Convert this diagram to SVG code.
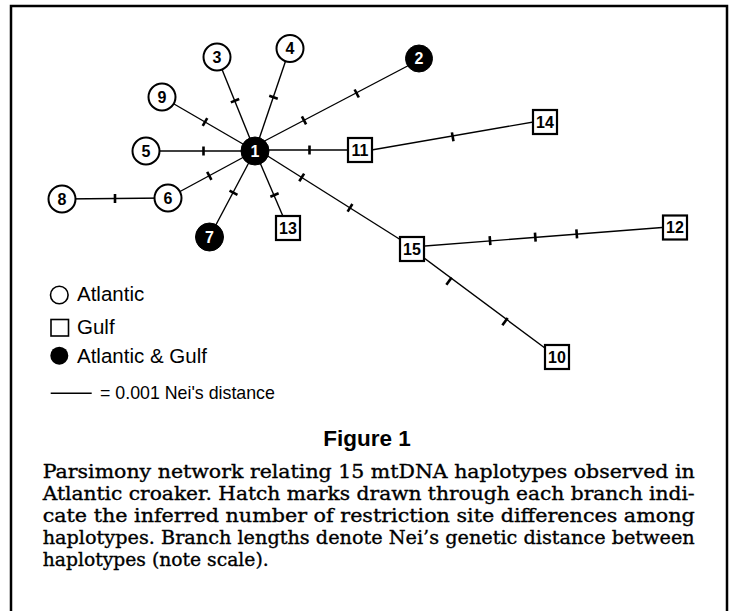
<svg xmlns="http://www.w3.org/2000/svg" xmlns:xlink="http://www.w3.org/1999/xlink" width="729" height="611" viewBox="0 0 729 611">
<style>
.edge{stroke:#000;stroke-width:1.4;fill:none}
.open{fill:#fff;stroke:#000;stroke-width:2}
.filled{fill:#000;stroke:#000;stroke-width:1}
.sq{fill:#fff;stroke:#000;stroke-width:2.2}
.lbl{font-family:"Liberation Sans",Arial,sans-serif;font-weight:bold;font-size:16px;text-anchor:middle;fill:#000}
.wl{fill:#fff}
.leg{font-family:"Liberation Sans",Arial,sans-serif;font-size:20.5px;fill:#000}
.cap{font-family:"DejaVu Serif","Liberation Serif",serif;font-size:18.5px;fill:#000;stroke:#000;stroke-width:0.35}
</style>
<defs>
<line id="tick" x1="0" y1="-4.5" x2="0" y2="4.5" stroke="#000" stroke-width="2.6"/>
</defs>
<rect width="729" height="611" fill="#fff"/>
<path d="M11,612 V6 H727 V612" fill="none" stroke="#000" stroke-width="2.5"/>
<g id="connectors">
<line class="edge" x1="255" y1="151" x2="217" y2="57"/>
<line class="edge" x1="255" y1="151" x2="290" y2="48"/>
<line class="edge" x1="255" y1="151" x2="162" y2="97"/>
<line class="edge" x1="255" y1="151" x2="146" y2="151"/>
<line class="edge" x1="255" y1="151" x2="168" y2="198"/>
<line class="edge" x1="168" y1="198" x2="62" y2="199"/>
<line class="edge" x1="255" y1="151" x2="209.5" y2="237"/>
<line class="edge" x1="255" y1="151" x2="288" y2="228"/>
<line class="edge" x1="255" y1="150" x2="360" y2="150"/>
<line class="edge" x1="255" y1="146" x2="419" y2="60"/>
<line class="edge" x1="255" y1="148" x2="412" y2="247"/>
<line class="edge" x1="360" y1="152" x2="545" y2="120"/>
<line class="edge" x1="412" y1="247" x2="675" y2="226.5"/>
<line class="edge" x1="412" y1="249" x2="557" y2="357"/>
<use xlink:href="#tick" transform="translate(235,100.7) rotate(68)"/>
<use xlink:href="#tick" transform="translate(273.5,97.3) rotate(-71.2)"/>
<use xlink:href="#tick" transform="translate(205,122) rotate(30.1)"/>
<use xlink:href="#tick" transform="translate(203.5,151)"/>
<use xlink:href="#tick" transform="translate(209.3,175.8) rotate(-28.4)"/>
<use xlink:href="#tick" transform="translate(115,198.5)"/>
<use xlink:href="#tick" transform="translate(233.5,192.8) rotate(-62.1)"/>
<use xlink:href="#tick" transform="translate(274.5,195) rotate(66.8)"/>
<use xlink:href="#tick" transform="translate(309.5,150)"/>
<use xlink:href="#tick" transform="translate(304,120.3) rotate(-27.7)"/>
<use xlink:href="#tick" transform="translate(356.7,93.5) rotate(-27.7)"/>
<use xlink:href="#tick" transform="translate(301.7,177.4) rotate(32.2)"/>
<use xlink:href="#tick" transform="translate(350,207.8) rotate(32.2)"/>
<use xlink:href="#tick" transform="translate(452.7,136.8) rotate(-10)"/>
<use xlink:href="#tick" transform="translate(490,240.6) rotate(-4.4)"/>
<use xlink:href="#tick" transform="translate(535.3,237.1) rotate(-4.4)"/>
<use xlink:href="#tick" transform="translate(576.7,233.9) rotate(-4.4)"/>
<use xlink:href="#tick" transform="translate(449,281.2) rotate(35.8)"/>
<use xlink:href="#tick" transform="translate(505,321.6) rotate(35.8)"/>
</g>
<g id="node1"><circle class="filled" cx="255" cy="151" r="14"/><text class="lbl wl" x="255" y="156.5">1</text></g>
<g id="node2"><circle class="filled" cx="419" cy="58.5" r="13.5"/><text class="lbl wl" x="419" y="64">2</text></g>
<g id="node3"><circle class="open" cx="217" cy="57" r="13.5"/><text class="lbl" x="217" y="62.5">3</text></g>
<g id="node4"><circle class="open" cx="290" cy="48.5" r="13.5"/><text class="lbl" x="290" y="54">4</text></g>
<g id="node5"><circle class="open" cx="146" cy="151" r="13.5"/><text class="lbl" x="146" y="156.5">5</text></g>
<g id="node6"><circle class="open" cx="168" cy="198" r="13.5"/><text class="lbl" x="168" y="203.5">6</text></g>
<g id="node7"><circle class="filled" cx="209.5" cy="237" r="14"/><text class="lbl wl" x="209.5" y="242.5">7</text></g>
<g id="node8"><circle class="open" cx="62" cy="199" r="13.5"/><text class="lbl" x="62" y="204.5">8</text></g>
<g id="node9"><circle class="open" cx="162" cy="97" r="13.5"/><text class="lbl" x="162" y="102.5">9</text></g>
<g id="node10"><rect class="sq" x="545" y="345" width="24" height="24"/><text class="lbl" x="557" y="362.5">10</text></g>
<g id="node11"><rect class="sq" x="348" y="138" width="24" height="24"/><text class="lbl" x="360" y="155.5">11</text></g>
<g id="node12"><rect class="sq" x="663" y="215.5" width="24" height="24"/><text class="lbl" x="675" y="233">12</text></g>
<g id="node13"><rect class="sq" x="276" y="216" width="24" height="24"/><text class="lbl" x="288" y="233.5">13</text></g>
<g id="node14"><rect class="sq" x="533" y="110" width="24" height="24"/><text class="lbl" x="545" y="127.5">14</text></g>
<g id="node15"><rect class="sq" x="400" y="237" width="24" height="24"/><text class="lbl" x="412" y="254.5">15</text></g>
<g id="legend">
<circle cx="59.3" cy="295" r="8.8" fill="#fff" stroke="#000" stroke-width="1.6"/>
<text class="leg" x="77" y="301">Atlantic</text>
<rect x="51" y="319.5" width="17.5" height="16.5" fill="#fff" stroke="#000" stroke-width="1.6"/>
<text class="leg" x="77" y="334">Gulf</text>
<circle cx="59.3" cy="355.7" r="9" fill="#000"/>
<text class="leg" x="77" y="363">Atlantic &amp; Gulf</text>
<line x1="50.7" y1="393.3" x2="91.7" y2="393.3" stroke="#000" stroke-width="1.5"/>
<text class="leg" x="100" y="399.3" style="font-size:17.8px">= 0.001 Nei's distance</text>
</g>
<g id="caption">
<text x="367" y="446" text-anchor="middle" style="font-family:'Liberation Sans',Arial,sans-serif;font-weight:bold;font-size:22.5px">Figure 1</text>
<text class="cap" x="42.7" y="477.7" textLength="652" lengthAdjust="spacingAndGlyphs">Parsimony network relating 15 mtDNA haplotypes observed in</text>
<text class="cap" x="42.7" y="500" textLength="652" lengthAdjust="spacingAndGlyphs">Atlantic croaker. Hatch marks drawn through each branch indi-</text>
<text class="cap" x="42.7" y="521.7" textLength="652" lengthAdjust="spacingAndGlyphs">cate the inferred number of restriction site differences among</text>
<text class="cap" x="42.7" y="544.3" textLength="652" lengthAdjust="spacingAndGlyphs">haplotypes. Branch lengths denote Nei’s genetic distance between</text>
<text class="cap" x="42.7" y="566" textLength="226" lengthAdjust="spacingAndGlyphs">haplotypes (note scale).</text>
</g>
</svg>
